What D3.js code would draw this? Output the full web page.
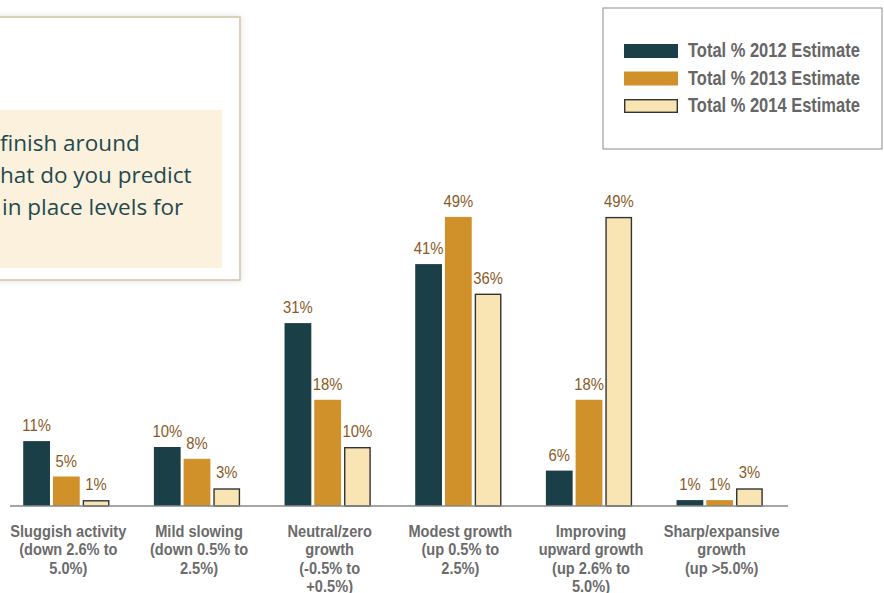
<!DOCTYPE html>
<html>
<head>
<meta charset="utf-8">
<script src="https://cdn.jsdelivr.net/npm/d3@7/dist/d3.min.js"></script>
<style>
  html, body { margin: 0; padding: 0; background: #ffffff; }
  svg { display: block; }
</style>
</head>
<body>
<script>
// ---- Data ----
const categories = [
  "Sluggish activity (down 2.6% to 5.0%)",
  "Mild slowing (down 0.5% to 2.5%)",
  "Neutral/zero growth (-0.5% to +0.5%)",
  "Modest growth (up 0.5% to 2.5%)",
  "Improving upward growth (up 2.6% to 5.0%)",
  "Sharp/expansive growth (up >5.0%)"
];
const categoryLines = [
  ["Sluggish activity", "(down 2.6% to", "5.0%)"],
  ["Mild slowing", "(down 0.5% to", "2.5%)"],
  ["Neutral/zero", "growth", "(-0.5% to", "+0.5%)"],
  ["Modest growth", "(up 0.5% to", "2.5%)"],
  ["Improving", "upward growth", "(up 2.6% to", "5.0%)"],
  ["Sharp/expansive", "growth", "(up >5.0%)"]
];
const seriesNames = ["Total % 2012 Estimate", "Total % 2013 Estimate", "Total % 2014 Estimate"];
const values2012 = [11, 10, 31, 41, 6, 1];
const values2013 = [5, 8, 18, 49, 18, 1];
const values2014 = [1, 3, 10, 36, 49, 3];
const questionLines = ["finish around", "hat do you predict", "in place levels for"];

// ---- Styles ----
const colors = ["#1a3f47", "#d0902a", "#f9e4b4"];
const strokes = ["none", "none", "#333333"];
const W = 884, H = 593;
const FONT = "'Liberation Sans', Arial, sans-serif";

const svg = d3.select("body").append("svg").attr("width", W).attr("height", H);

const defs = svg.append("defs");
const f = defs.append("filter").attr("id", "sh").attr("x", "-10%").attr("y", "-10%").attr("width", "120%").attr("height", "120%");
f.append("feDropShadow").attr("dx", 0).attr("dy", 0).attr("stdDeviation", 3).attr("flood-color", "#000").attr("flood-opacity", 0.12);

// ---- Question box (cropped) ----
svg.append("rect").attr("x", -20).attr("y", 17).attr("width", 260).attr("height", 263)
  .attr("fill", "#ffffff").attr("stroke", "#d3c2a4").attr("stroke-width", 1.5).attr("filter", "url(#sh)");
svg.append("rect").attr("x", -5).attr("y", 110).attr("width", 227).attr("height", 158).attr("fill", "#fcf1dd");
svg.append("g").selectAll("text").data(questionLines).join("text")
  .attr("x", (d, i) => [0, 0, 2][i])
  .attr("y", (d, i) => 151 + i * 32)
  .attr("font-family", "'Open Sans', sans-serif")
  .attr("font-size", 22.5)
  .attr("fill", "#1f4a50")
  .text(d => d);

// ---- Scales ----
const x0 = d3.scaleBand().domain(categories).range([1, 785]).paddingInner(0.34).paddingOuter(0.17);
const x1 = d3.scaleBand().domain(seriesNames).range([0, x0.bandwidth()]).paddingInner(0.1);
const y = d3.scaleLinear().domain([0, 50]).range([506, 211]);

const table = categories.map((c, i) => ({
  cat: c,
  vals: [values2012[i], values2013[i], values2014[i]].map((v, k) => ({ s: seriesNames[k], k, v }))
}));

// ---- Bars ----
const groups = svg.append("g").selectAll("g").data(table).join("g")
  .attr("transform", d => `translate(${x0(d.cat)},0)`);

groups.selectAll("rect").data(d => d.vals).join("rect")
  .attr("x", d => x1(d.s) + (d.k === 2 ? 0.7 : 0))
  .attr("width", d => x1.bandwidth() - (d.k === 2 ? 1.4 : 0))
  .attr("y", d => y(d.v) + (d.k === 2 ? 0.7 : 0))
  .attr("height", d => y(0) - y(d.v) - (d.k === 2 ? 0.7 : 0))
  .attr("fill", d => colors[d.k])
  .attr("stroke", d => strokes[d.k])
  .attr("stroke-width", 1.4);

groups.selectAll("g.val").data(d => d.vals).join("g")
  .attr("class", "val")
  .attr("transform", d => `translate(${x1(d.s) + x1.bandwidth() / 2},${y(d.v) - 10}) scale(0.9,1)`)
  .append("text")
  .attr("text-anchor", "middle")
  .attr("font-family", FONT)
  .attr("font-size", 16.5)
  .attr("fill", "#8a5a24")
  .text(d => d.v + "%");

// ---- Baseline ----
svg.append("line").attr("x1", 10).attr("x2", 788).attr("y1", y(0)).attr("y2", y(0))
  .attr("stroke", "#888888").attr("stroke-width", 1.5);

// ---- Category labels ----
const xAxis = d3.axisBottom(x0).tickSize(0).tickFormat("");
const ax = svg.append("g").attr("transform", `translate(0,${y(0)})`).call(xAxis);
ax.select(".domain").remove();
ax.selectAll(".tick").each(function (d, i) {
  const t = d3.select(this).append("text")
    .attr("transform", "translate(2,0) scale(0.885,1)")
    .attr("text-anchor", "middle")
    .attr("font-family", FONT)
    .attr("font-weight", "bold")
    .attr("font-size", 16.5)
    .attr("fill", "#6b6b6b");
  categoryLines[i].forEach((line, j) => {
    t.append("tspan").attr("x", 0).attr("y", 31 + j * 18.5).text(line);
  });
});

// ---- Legend ----
svg.append("rect").attr("x", 603).attr("y", 8).attr("width", 279).attr("height", 141)
  .attr("fill", "#ffffff").attr("stroke", "#8c8c8c").attr("stroke-width", 1);
const lg = svg.append("g").selectAll("g").data(seriesNames).join("g")
  .attr("transform", (d, i) => `translate(624,${44 + i * 27.5})`);
lg.append("rect").attr("x", (d, i) => i === 2 ? 0.7 : 0).attr("y", (d, i) => i === 2 ? 0.7 : 0)
  .attr("width", (d, i) => i === 2 ? 52.6 : 54).attr("height", (d, i) => i === 2 ? 12.6 : 14)
  .attr("fill", (d, i) => colors[i]).attr("stroke", (d, i) => strokes[i]).attr("stroke-width", 1.4);
lg.append("g").attr("transform", "translate(64,13) scale(0.845,1)")
  .append("text")
  .attr("font-family", FONT)
  .attr("font-weight", "bold").attr("font-size", 19.5).attr("fill", "#666666")
  .text(d => d);
</script>
</body>
</html>
